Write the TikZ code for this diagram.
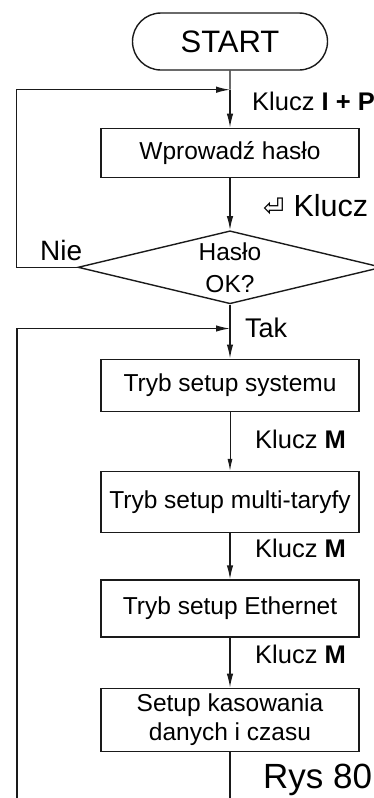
\documentclass[tikz,border=0pt]{standalone}
\usepackage{fontspec}
\setmainfont{Liberation Sans}
\newfontfamily\symfont{DejaVu Sans}
\usepackage{tikz}
\usetikzlibrary{arrows.meta,positioning,shapes.geometric,shapes.misc}
\definecolor{ink}{HTML}{1A1A1A}
\tikzset{
  >={Latex[length=14pt,width=6.5pt]},
  term/.style={rounded rectangle, draw=ink, line width=1.4pt, minimum width=195pt, minimum height=57pt, inner sep=0pt, font=\fontsize{31}{36}\selectfont},
  stepbox/.style={draw=ink, line width=1.4pt, minimum width=258pt, inner sep=0pt, align=center, font=\fontsize{24.5}{29}\selectfont},
  decide/.style={diamond, draw=ink, line width=1.4pt, minimum width=304pt, minimum height=73pt, aspect=4, inner sep=0pt, align=center, font=\fontsize{24.5}{32}\selectfont},
  keylabel/.style={inner sep=0pt, anchor=base west, font=\fontsize{25.5}{30}\selectfont},
  flow/.style={->, line width=1.4pt, color=ink},
  thinflow/.style={-{Latex[length=12pt,width=5pt]}, line width=1pt, color=ink},
  wire/.style={line width=1.4pt, color=ink}
}

\begin{document}
\begin{tikzpicture}[x=1pt,y=-1pt]
  \useasboundingbox (0,0) rectangle (374,798);
  \clip (0,0) rectangle (374,798);
  % main column
  \node[term] (start) at (230,41.5) {START};
  \node[stepbox,minimum height=49pt,below=57pt of start] (pass) {Wprowadź hasło};
  \node[decide,below=52pt of pass] (dec) {Hasło\\OK?};
  \node[stepbox,minimum height=52pt,below=54pt of dec] (sys) {Tryb setup systemu};
  \node[stepbox,minimum height=61pt,below=59pt of sys] (multi) {Tryb setup multi-taryfy};
  \node[stepbox,minimum height=57pt,below=46pt of multi] (eth) {Tryb setup Ethernet};
  \node[stepbox,minimum height=63pt,below=50pt of eth] (clr) {Setup kasowania\\danych i czasu};
  \coordinate[below=19pt of start] (j1);
  \coordinate[below=24pt of dec] (j2);
  \coordinate[below=70pt of clr] (tail);
  \coordinate (back) at (17,820);
  % connectors
  \draw[wire] (start) -- (j1);
  \draw[flow] (j1) -- (pass);
  \draw[flow] (pass) -- (dec);
  \draw[flow] (dec.west) -- ++(-61,0) |- (j1);
  \draw[wire] (dec) -- (j2);
  \draw[flow] (j2) -- (sys);
  \draw[flow] (back) |- (j2);
  \draw[thinflow] (sys) -- (multi);
  \draw[flow] (multi) -- (eth);
  \draw[flow] (eth) -- (clr);
  \draw[wire] (clr) -- (tail);
  % labels
  \node[keylabel] (kip) at (252,110) {Klucz \textbf{I + P}};
  \node[keylabel] (kret) at (263,216) {{\symfont ⏎}\hspace{9pt}{\fontsize{30.5}{34}\selectfont Klucz}};
  \node[keylabel,font=\fontsize{28}{32}\selectfont] (nie) at (40,260) {Nie};
  \node[keylabel,font=\fontsize{27}{32}\selectfont] (tak) at (245,337) {Tak};
  \node[keylabel] (km1) at (255,448) {Klucz \textbf{M}};
  \node[keylabel] (km2) at (255,557) {Klucz \textbf{M}};
  \node[keylabel] (km3) at (255,663) {Klucz \textbf{M}};
  \node[keylabel,font=\fontsize{35}{40}\selectfont] (rys) at (263,788) {Rys 80};
\end{tikzpicture}
\end{document}
